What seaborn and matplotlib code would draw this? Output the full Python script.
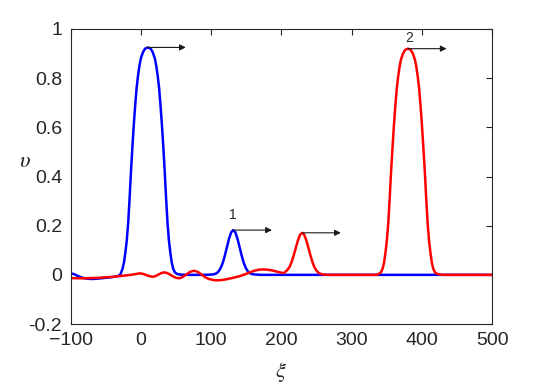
import numpy as np
import pandas as pd
import matplotlib
matplotlib.use("Agg")
import matplotlib.pyplot as plt
import seaborn as sns

# blue profile (initial state)
blue_x = [-100, -95, -90, -85, -80, -75, -70, -65, -60, -50, -40, -35, -30,
          -28.5, -26, -24, -22, -20, -18, -16, -14, -12, -10, -8, -6, -4, -2,
          0, 3, 6, 10, 14, 17, 20, 22, 24, 26, 28, 30, 32, 34, 36, 38, 40,
          42, 44, 46, 48.5, 52, 58, 70, 90, 100,
          103.5, 107.5, 110.5, 113.5, 116.5, 119.5, 122.5, 125.5, 128.5,
          131.5, 134.5, 137.5, 140.5, 143.5, 146.5, 149.5, 152.5, 155.5,
          159.5, 170, 250, 350, 500]
blue_y = [0.006, 0.003, -0.004, -0.010, -0.014, -0.016, -0.017, -0.016,
          -0.015, -0.012, -0.009, -0.006, -0.002,
          0.006, 0.025, 0.05, 0.09, 0.14, 0.21, 0.31, 0.42, 0.52, 0.61, 0.69,
          0.76, 0.81, 0.85, 0.88, 0.905, 0.92, 0.925, 0.92, 0.905, 0.88, 0.85,
          0.81, 0.76, 0.69, 0.61, 0.52, 0.42, 0.31, 0.21, 0.14, 0.09, 0.05,
          0.025, 0.01, 0.003, 0.0005, 0.0, 0.0, 0.001,
          0.002, 0.006, 0.0135, 0.027, 0.048, 0.078, 0.113, 0.147, 0.173,
          0.182, 0.173, 0.147, 0.113, 0.078, 0.048, 0.027, 0.0135, 0.006,
          0.002, 0.0, 0.0, 0.0, 0.0]

# red profile (later state)
red_x = [-100, -90, -80, -70, -60, -50, -40, -30, -20, -14, -8, -4, -1, 3,
         8, 13, 17, 21, 25, 29, 33, 37, 41, 45, 50, 55, 60, 65, 70, 76, 81,
         86, 91, 97, 105, 112, 120, 130, 140, 148, 155, 162, 168, 174, 180,
         187, 195, 201, 204,
         205.5, 208.5, 211.5, 214.5, 217.5, 220.5, 223.5, 226.5, 229.5,
         232.5, 235.5, 238.5, 241.5, 244.5, 247.5, 250.5, 253.5, 258, 265,
         300, 335, 338, 341.5, 344, 346, 348, 350, 352, 354, 356, 358, 360,
         362, 364, 366, 368, 370, 373, 376, 380, 384, 387, 390, 392, 394, 396,
         398, 400, 402, 404, 406, 408, 410, 412, 414, 416, 418.5, 422, 430,
         500]
red_y = [-0.013, -0.014, -0.014, -0.013, -0.012, -0.010, -0.008, -0.005,
         -0.002, 0.0, 0.003, 0.005, 0.006, 0.004, -0.001, -0.006, -0.008,
         -0.005, 0.001, 0.007, 0.010, 0.008, 0.002, -0.005, -0.012, -0.014,
         -0.008, 0.002, 0.012, 0.017, 0.012, 0.002, -0.009, -0.017, -0.022,
         -0.022, -0.019, -0.013, -0.006, 0.002, 0.010, 0.017, 0.021, 0.022,
         0.021, 0.018, 0.012, 0.008, 0.008,
         0.012, 0.02, 0.032, 0.052, 0.079, 0.110, 0.140, 0.163, 0.171,
         0.163, 0.140, 0.109, 0.077, 0.049, 0.028, 0.015, 0.007, 0.002, 0.0,
         0.0, 0.0, 0.003, 0.01, 0.025, 0.05, 0.09, 0.14, 0.21, 0.31, 0.42,
         0.515, 0.605, 0.685, 0.755, 0.805, 0.845, 0.875, 0.90, 0.915, 0.92,
         0.915, 0.90, 0.875, 0.845, 0.805, 0.755, 0.685, 0.605, 0.515, 0.42,
         0.31, 0.21, 0.14, 0.09, 0.05, 0.025, 0.01, 0.003, 0.0, 0.0]

# arrows showing propagation direction
arrow_x0 = [9, 131.5, 229.5, 380]
arrow_y = [0.925, 0.182, 0.171, 0.92]
arrow_len = 55

soliton_labels = ["1", "2"]
label_x = [130.7, 382]
label_y = [0.243, 0.962]

xticks = [-100, 0, 100, 200, 300, 400, 500]
yticks = [-0.2, 0, 0.2, 0.4, 0.6, 0.8, 1]
ytick_labels = ["-0.2", "0", "0.2", "0.4", "0.6", "0.8", "1"]

sns.set_theme(style="white")
plt.rcParams['font.family'] = ['Liberation Sans', 'DejaVu Sans']
plt.rcParams['mathtext.fontset'] = 'stix'

fig = plt.figure(figsize=(5.45, 3.83), dpi=100)
ax = fig.add_axes([0.1294, 0.154, 0.7739, 0.7703])

sns.lineplot(x=blue_x, y=blue_y, sort=False, estimator=None, color='#0000ff',
             lw=1.8, ax=ax)
sns.lineplot(x=red_x, y=red_y, sort=False, estimator=None, color='#ff0000',
             lw=1.8, ax=ax)

for x0, y0 in zip(arrow_x0, arrow_y):
    ax.annotate("", xy=(x0 + arrow_len, y0), xytext=(x0, y0),
                arrowprops=dict(arrowstyle='-|>', color='k', lw=0.8,
                                mutation_scale=9, shrinkA=0, shrinkB=0))

for t, x, y in zip(soliton_labels, label_x, label_y):
    ax.text(x, y, t, ha='center', va='center', fontsize=10, color='#262626')

ax.set_xlim(-100, 500)
ax.set_ylim(-0.2, 1)
ax.set_xticks(xticks)
ax.set_yticks(yticks)
ax.set_yticklabels(ytick_labels)
ax.tick_params(direction='in', length=4, width=0.8, top=True, right=True,
               labelsize=14, colors='#262626', pad=6)
for s in ax.spines.values():
    s.set_color('#262626')
    s.set_linewidth(0.8)

ax.set_xlabel(r'$\xi$', fontsize=16, color='#262626', labelpad=8)
ax.set_ylabel(r'$\upsilon$', fontsize=16, color='#262626', rotation=0)
ax.yaxis.set_label_coords(-0.108, 0.515)

plt.savefig('out.png', dpi=100)
